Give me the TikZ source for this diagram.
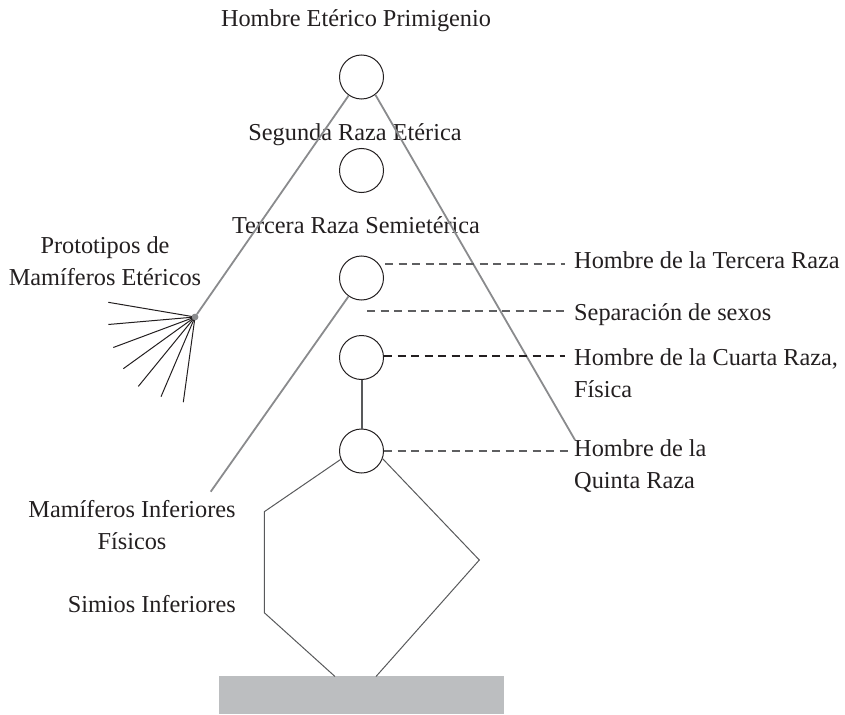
\documentclass[tikz,border=0pt]{standalone}
\usepackage{fontspec}
\setmainfont{Liberation Serif}
\definecolor{ink}{HTML}{231F20}
\definecolor{linegray}{HTML}{8A8B8D}
\definecolor{darkline}{HTML}{58595B}
\definecolor{dashgray}{HTML}{5E5F61}
\definecolor{rectgray}{HTML}{BCBEC0}
\begin{document}
\begin{tikzpicture}[x=1pt,y=-1pt,
  font=\fontsize{24.3}{31.5}\selectfont,
  racecircle/.style={circle, draw=ink, line width=1pt, minimum size=44pt, inner sep=0pt},
  grayline/.style={draw=linegray, line width=1.8pt},
  fanline/.style={draw=ink, line width=1pt},
  hexline/.style={draw=darkline, line width=1pt},
  dashline/.style={draw=dashgray, line width=1.3pt, dash pattern=on 8pt off 5.5pt},
  lbl/.style={text=ink, inner sep=0pt}]
\useasboundingbox (0,0) rectangle (845,714);

% circles
\node[racecircle] (c1) at (361.5,77) {};
\node[racecircle] (c2) at (361.5,170.5) {};
\node[racecircle] (c3) at (361.5,278) {};
\node[racecircle] (c4) at (361.5,357.5) {};
\node[racecircle] (c5) at (361.5,451) {};

% base block
\node[fill=rectgray, anchor=north west, minimum width=284.7pt, minimum height=38pt, inner sep=0pt, outer sep=0pt] (block) at (219.3,676) {};

% labels (multi-line nodes: base anchor = last line baseline)
\node[lbl, anchor=base] (t1) at (356,26.7) {Hombre Etérico Primigenio};
\node[lbl, anchor=base] (t2) at (355,141) {Segunda Raza Etérica};
\node[lbl, anchor=base] (t3) at (356,233) {Tercera Raza Semietérica};
\node[lbl, anchor=base, align=center] (proto) at (105,285) {Prototipos de\\Mamíferos Etéricos};
\node[lbl, anchor=base, align=center] (mamif) at (132,549) {Mamíferos Inferiores\\Físicos};
\node[lbl, anchor=base east] (simios) at (236,612.7) {Simios Inferiores};
\node[lbl, anchor=base west] (r3) at (574,268) {Hombre de la Tercera Raza};
\node[lbl, anchor=base west] (sep) at (574,320) {Separación de sexos};
\node[lbl, anchor=base west, align=left] (r4) at (574,397) {Hombre de la Cuarta Raza,\\Física};
\node[lbl, anchor=base west, align=left] (r5) at (574,488) {Hombre de la\\Quinta Raza};

% free ends
\coordinate (q5end) at (575,440);
\coordinate (mamend) at (210.7,491.7);
\coordinate (f1) at (108.3,302.3);
\coordinate (f2) at (108.3,324.5);
\coordinate (f3) at (113.3,347.5);
\coordinate (f4) at (123.3,368.7);
\coordinate (f5) at (138.3,386.4);
\coordinate (f6) at (161,396.7);
\coordinate (f7) at (183.3,402.2);
\coordinate (h1) at (264.3,511.7);
\coordinate (h2) at (264.3,612.7);
\coordinate (h3) at (335,676.5);
\coordinate (h4) at (479.3,560);
\coordinate (h5) at (376,676.5);
\coordinate (d1s) at (385,264);
\coordinate (d1e) at (565,264);
\coordinate (d2s) at (367,311);
\coordinate (d2e) at (565,311);
\coordinate (d3s) at (384,356);
\coordinate (d3e) at (565,356);
\coordinate (d4e) at (570,451);

% fan and dot
\node[circle, fill=linegray, inner sep=0pt, minimum size=6.5pt] (dot) at (195,317) {};
\foreach \i in {1,...,7} \draw[fanline] (dot.center) -- (f\i);
\draw[grayline] (c1) -- (dot);
\node[circle, fill=linegray, inner sep=0pt, minimum size=6.5pt] at (dot) {};

% long gray lines
\draw[grayline] (c1.-52) -- (q5end);
\draw[grayline] (c3) -- (mamend);

% trunk
\draw[draw=darkline, line width=2pt] (c4) -- (c5);

% hexagon
\draw[hexline] (c5.-158) -- (h1) -- (h2) -- (h3);
\draw[hexline] (c5.-20) -- (h4) -- (h5);

% dashed leaders
\draw[dashline] (d1s) -- (d1e);
\draw[dashline] (d2s) -- (d2e);
\draw[dashline, draw=ink, line width=1.1pt] (d3s) -- (d3e);
\draw[dashline] (c5.east) -- (d4e);
\end{tikzpicture}
\end{document}
